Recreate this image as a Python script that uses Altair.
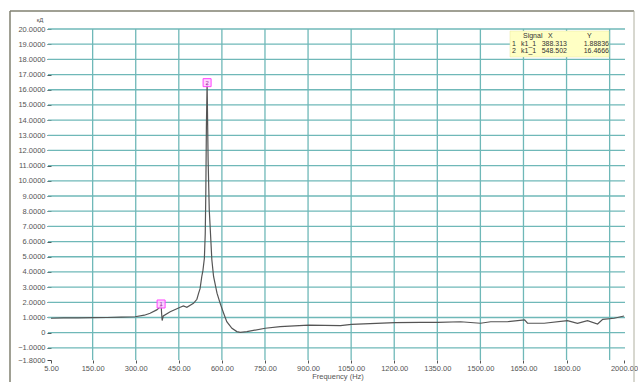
import altair as alt
import pandas as pd

# ---- data ----
freq = [5, 50, 100, 150, 200, 250, 298, 330, 350, 373, 385, 388.313, 390, 392, 396,
        420, 455, 466, 478, 501, 513, 519, 524, 530, 534, 539, 542, 544, 546, 548.502,
        552, 556, 562, 565, 571, 583, 594, 606, 617, 635, 652, 664, 687, 751, 803,
        902, 1013, 1051, 1202, 1292, 1352, 1431, 1500, 1536, 1594, 1654, 1664, 1722,
        1803, 1838, 1873, 1908, 1926, 1966, 2000]
amp = [0.95, 0.97, 0.98, 0.99, 1.0, 1.02, 1.05, 1.15, 1.28, 1.5, 1.7, 1.88836, 1.3, 0.8, 1.1,
       1.38, 1.67, 1.76, 1.67, 1.93, 2.2, 2.6, 2.9, 3.7, 4.1, 4.9, 6.5, 9.2, 13.5, 16.4666,
       11.4, 8.1, 5.9, 4.8, 3.7, 2.6, 1.93, 1.28, 0.72, 0.29, 0.07, 0.02, 0.07, 0.29, 0.4,
       0.5, 0.46, 0.55, 0.66, 0.68, 0.68, 0.72, 0.62, 0.72, 0.72, 0.84, 0.62, 0.62,
       0.79, 0.62, 0.79, 0.57, 0.88, 0.95, 1.1]

marker_id = ["1", "2"]
marker_signal = ["k1_1", "k1_1"]
marker_x = [388.313, 548.502]
marker_y = [1.88836, 16.4666]

y_ticks = [-1.8] + list(range(-1, 21))
y_grid = list(range(-1, 21))
x_ticks = [5] + list(range(150, 1801, 150)) + [2000]
x_grid = list(range(150, 1951, 150))

W, H = 573, 331
GRID = "#6fb8b8"
FONT = "Liberation Sans"

xs = alt.Scale(domain=[5, 2000], nice=False, zero=False)
ys = alt.Scale(domain=[-1.8, 20], nice=False, zero=False)

xaxis = alt.Axis(
    values=x_ticks, format=".2f", grid=False, domain=False, tickSize=3,
    tickColor="#555", labelFontSize=7.5, labelColor="#555", labelFont=FONT,
    labelPadding=1, title="Frequency (Hz)", titleFontSize=7.5, titleFontWeight="normal",
    titleColor="#555", titleFont=FONT, titlePadding=1, labelFlush=False)
yaxis = alt.Axis(
    values=y_ticks, labelExpr="datum.value == 0 ? '0' : format(datum.value, '.4f')",
    grid=False, domain=False, tickSize=4, tickColor="#444", labelFontSize=7.5,
    labelColor="#555", labelFont=FONT, labelPadding=2, title=None)

curve_df = pd.DataFrame({"f": freq, "a": amp})
mk_df = pd.DataFrame({"id": marker_id, "sig": marker_signal, "x": marker_x, "y": marker_y})
one = pd.DataFrame({"d": [0]})

hgrid = alt.Chart(pd.DataFrame({"v": y_grid})).mark_rule(color=GRID, strokeWidth=1.3).encode(
    y=alt.Y("v:Q", scale=ys, axis=yaxis),
    x=alt.value(-3), x2=alt.value(W + 1))
vgrid = alt.Chart(pd.DataFrame({"v": x_grid})).mark_rule(color=GRID, strokeWidth=1.3).encode(
    x=alt.X("v:Q", scale=xs, axis=xaxis),
    y=alt.value(0), y2=alt.value(H))

box = alt.Chart(one).mark_rect(fill="#ffffc4", stroke="#e6e6a0", strokeWidth=0.5).encode(
    x=alt.value(459), x2=alt.value(558), y=alt.value(2), y2=alt.value(28))

line = alt.Chart(curve_df).mark_line(color="#555555", strokeWidth=1.2).encode(
    x=alt.X("f:Q", scale=xs, axis=xaxis), y=alt.Y("a:Q", scale=ys, axis=yaxis))

marks = alt.Chart(mk_df).mark_square(size=64, fill="#ffc8ff", stroke="#ff44ff",
                                     strokeWidth=1, opacity=1, fillOpacity=0.8).encode(
    x=alt.X("x:Q", scale=xs, axis=xaxis), y=alt.Y("y:Q", scale=ys, axis=yaxis))
mark_txt = alt.Chart(mk_df).mark_text(fontSize=6, color="#aa33aa", font=FONT).encode(
    x=alt.X("x:Q", scale=xs, axis=xaxis), y=alt.Y("y:Q", scale=ys, axis=yaxis), text="id:N")

# legend table texts
hdr = pd.DataFrame({"t": ["Signal", "X", "Y"], "px": [472, 497, 536]})
header = alt.Chart(hdr).mark_text(fontSize=7, font=FONT, color="#333", align="left").encode(
    x=alt.X("px:Q", scale=None), y=alt.value(7), text="t:N")
rows = pd.DataFrame({
    "id": marker_id, "sig": marker_signal,
    "xs": [f"{v:.3f}" for v in marker_x], "ys": [f"{v:.5f}"[:7] for v in marker_y],
    "py": [15, 22]})
r_id = alt.Chart(rows).mark_text(fontSize=7, font=FONT, color="#333", align="left").encode(
    x=alt.value(461), y=alt.Y("py:Q", scale=None), text="id:N")
r_sig = alt.Chart(rows).mark_text(fontSize=7, font=FONT, color="#333", align="left").encode(
    x=alt.value(470), y=alt.Y("py:Q", scale=None), text="sig:N")
r_x = alt.Chart(rows).mark_text(fontSize=7, font=FONT, color="#333", align="right").encode(
    x=alt.value(516), y=alt.Y("py:Q", scale=None), text="xs:N")
r_y = alt.Chart(rows).mark_text(fontSize=7, font=FONT, color="#333", align="right").encode(
    x=alt.value(558), y=alt.Y("py:Q", scale=None), text="ys:N")

unit = alt.Chart(one).mark_text(fontSize=6, font=FONT, color="#555", text="кД").encode(
    x=alt.value(-11), y=alt.value(-9))

frame_l = alt.Chart(one).mark_rule(color="#808070", strokeWidth=1.5).encode(
    x=alt.value(-41), y=alt.value(-18), y2=alt.value(H + 30))
frame_t = alt.Chart(one).mark_rule(color="#808070", strokeWidth=1.5).encode(
    x=alt.value(-41), x2=alt.value(W + 10), y=alt.value(-18))
frame_r = alt.Chart(one).mark_rule(color="#b0b0a0", strokeWidth=1).encode(
    x=alt.value(W + 10), y=alt.value(-18), y2=alt.value(H + 30))

chart = alt.layer(
    hgrid, vgrid, box, line, marks, mark_txt,
    header, r_id, r_sig, r_x, r_y, unit, frame_l, frame_t, frame_r
).properties(
    width=W, height=H,
    autosize=alt.AutoSizeParams(type="none"),
    padding={"left": 51, "top": 29, "right": 14, "bottom": 22},
    background="white",
).configure_view(stroke=None)

chart.save("out.html", embed_options={"renderer": "svg", "actions": False})
